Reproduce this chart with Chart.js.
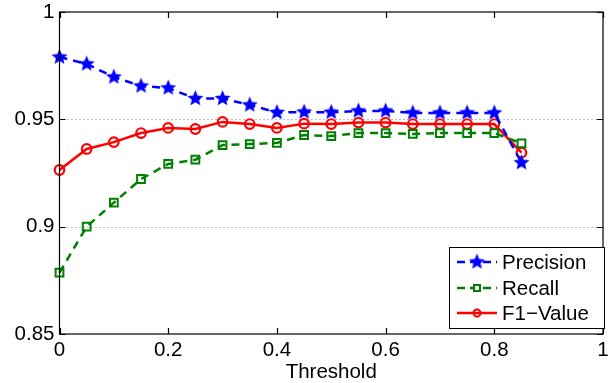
<!DOCTYPE html>
<html>
<head>
<meta charset="utf-8">
<script src="https://cdn.jsdelivr.net/npm/chart.js@4.4.0/dist/chart.umd.min.js"></script>
<style>
  html, body { margin: 0; padding: 0; background: #fff; }
  #wrap { width: 616px; height: 383px; position: relative; }
</style>
</head>
<body>
<div id="wrap"><canvas id="prChart"></canvas></div>
<script>
// data
const thresholds = [0, 0.05, 0.1, 0.15, 0.2, 0.25, 0.3, 0.35, 0.4, 0.45, 0.5, 0.55, 0.6, 0.65, 0.7, 0.75, 0.8, 0.85];
const precision = [0.979, 0.9758, 0.9697, 0.9655, 0.9646, 0.9597, 0.9597, 0.9567, 0.9532, 0.9534, 0.9533, 0.9539, 0.9539, 0.9530, 0.9530, 0.9530, 0.9530, 0.9298];
const recall = [0.8786, 0.9000, 0.9112, 0.9222, 0.9292, 0.9312, 0.9380, 0.9385, 0.9390, 0.9427, 0.9422, 0.9436, 0.9436, 0.9432, 0.9436, 0.9436, 0.9436, 0.9388];
const f1Value = [0.9264, 0.9362, 0.9394, 0.9436, 0.9460, 0.9455, 0.9488, 0.9478, 0.9460, 0.9480, 0.9478, 0.9485, 0.9485, 0.9478, 0.9478, 0.9478, 0.9478, 0.9345];
const xTicks = [0, 0.2, 0.4, 0.6, 0.8, 1];
const yTicks = [0.85, 0.9, 0.95, 1];
const seriesNames = ['Precision', 'Recall', 'F1\u2212Value'];

const FONT = '"Liberation Sans", Arial, Helvetica, sans-serif';
const BLUE = '#0000ff', GREEN = '#008000', RED = '#ff0000';

// filled 5-point star marker
function makeStar(r, color) {
    const c = document.createElement('canvas');
    const s = Math.ceil(r * 2 + 2);
    c.width = s; c.height = s;
    const g = c.getContext('2d');
    g.fillStyle = color;
    g.beginPath();
    for (let i = 0; i < 10; i++) {
        const rad = i % 2 === 0 ? r : r * 0.45;
        const a = -Math.PI / 2 + i * Math.PI / 5;
        const px = s / 2 + rad * Math.cos(a), py = s / 2 + rad * Math.sin(a);
        if (i === 0) g.moveTo(px, py); else g.lineTo(px, py);
    }
    g.closePath();
    g.fill();
    return c;
}
const starImg = makeStar(8.4, BLUE);

// box, inward ticks, dotted grid, legend (MATLAB look)
const matlabAxes = {
    id: 'matlabAxes',
    beforeDatasetsDraw(chart) {
        const { ctx, chartArea: a, scales: { x, y } } = chart;
        ctx.save();
        ctx.strokeStyle = '#808080';
        ctx.lineWidth = 1;
        ctx.setLineDash([1, 3]);
        yTicks.forEach(v => {
            if (v === 0.85 || v === 1) return;
            const py = Math.round(y.getPixelForValue(v)) + 0.5;
            ctx.beginPath(); ctx.moveTo(a.left, py); ctx.lineTo(a.right, py); ctx.stroke();
        });
        ctx.restore();
    },
    afterDraw(chart) {
        const { ctx, chartArea: a, scales: { x, y } } = chart;
        ctx.save();
        ctx.strokeStyle = '#000';
        ctx.lineWidth = 1.2;
        ctx.strokeRect(a.left, a.top, a.right - a.left, a.bottom - a.top);
        const tl = 6;
        ctx.beginPath();
        xTicks.forEach(v => {
            const px = Math.round(x.getPixelForValue(v)) + 0.5;
            ctx.moveTo(px, a.bottom); ctx.lineTo(px, a.bottom - tl);
            ctx.moveTo(px, a.top); ctx.lineTo(px, a.top + tl);
        });
        yTicks.forEach(v => {
            const py = Math.round(y.getPixelForValue(v)) + 0.5;
            ctx.moveTo(a.left, py); ctx.lineTo(a.left + tl, py);
            ctx.moveTo(a.right, py); ctx.lineTo(a.right - tl, py);
        });
        ctx.stroke();

        // legend box
        const lx = 449, ly = 247, lw = 155, lh = 81;
        ctx.fillStyle = '#fff';
        ctx.fillRect(lx, ly, lw, lh);
        ctx.lineWidth = 1;
        ctx.strokeRect(lx + 0.5, ly + 0.5, lw, lh);
        const rows = [262, 288, 313];
        ctx.font = '20.5px ' + FONT;
        ctx.textBaseline = 'middle';
        chart.data.datasets.forEach((ds, i) => {
            const ry = rows[i];
            ctx.strokeStyle = ds.borderColor;
            ctx.lineWidth = 2.4;
            ctx.setLineDash(ds.borderDash ? [8, 5] : []);
            ctx.beginPath(); ctx.moveTo(457, ry); ctx.lineTo(497, ry); ctx.stroke();
            ctx.setLineDash([]);
            const cx = 477;
            if (i === 0) {
                ctx.drawImage(starImg, cx - starImg.width / 2, ry - starImg.height / 2);
            } else if (i === 1) {
                ctx.lineWidth = 2;
                ctx.fillStyle = '#fff';
                ctx.fillRect(cx - 3, ry - 3, 6, 6);
                ctx.strokeRect(cx - 3, ry - 3, 6, 6);
            } else {
                ctx.lineWidth = 2;
                ctx.beginPath(); ctx.arc(cx, ry, 3.5, 0, Math.PI * 2); ctx.stroke();
            }
            ctx.fillStyle = '#000';
            ctx.fillText(ds.label, 502, ry + 1);
        });
        ctx.restore();
    }
};

const toPts = vals => vals.map((v, i) => ({ x: thresholds[i], y: v }));

new Chart(document.getElementById('prChart'), {
    type: 'line',
    data: {
        datasets: [
            {
                label: seriesNames[0],
                data: toPts(precision),
                borderColor: BLUE,
                borderWidth: 2.5,
                borderDash: [8, 6],
                pointStyle: starImg,
                clip: false
            },
            {
                label: seriesNames[1],
                data: toPts(recall),
                borderColor: GREEN,
                borderWidth: 2.5,
                borderDash: [8, 6],
                pointStyle: 'rect',
                pointRadius: 5.5,
                pointBorderWidth: 2,
                pointBackgroundColor: 'rgba(0,0,0,0)',
                clip: false
            },
            {
                label: seriesNames[2],
                data: toPts(f1Value),
                borderColor: RED,
                borderWidth: 2.5,
                pointStyle: 'circle',
                pointRadius: 4.8,
                pointBorderWidth: 2.2,
                pointBackgroundColor: 'rgba(0,0,0,0)',
                clip: false
            }
        ]
    },
    options: {
        responsive: true,
        maintainAspectRatio: false,
        animation: false,
        layout: { padding: { top: 12, right: 13, left: 0, bottom: 0 } },
        plugins: { legend: { display: false }, tooltip: { enabled: false } },
        elements: { line: { tension: 0, fill: false } },
        scales: {
            x: {
                type: 'linear',
                min: 0, max: 1,
                afterBuildTicks: s => { s.ticks = xTicks.map(v => ({ value: v })); },
                afterFit: s => { s.height = 49; s.paddingLeft = 0; s.paddingRight = 0; },
                grid: { display: false, drawTicks: false },
                border: { display: false },
                ticks: {
                    color: '#000', font: { family: FONT, size: 20.5 }, padding: 4,
                    callback: v => String(v)
                },
                title: {
                    display: true, text: 'Threshold', color: '#000',
                    font: { family: FONT, size: 20.5 }, padding: { top: 0, bottom: -2 }
                }
            },
            y: {
                min: 0.85, max: 1,
                afterBuildTicks: s => { s.ticks = yTicks.map(v => ({ value: v })); },
                afterFit: s => { s.width = 59.5; s.paddingTop = 0; s.paddingBottom = 0; },
                grid: { display: false, drawTicks: false },
                border: { display: false },
                ticks: {
                    color: '#000', font: { family: FONT, size: 20.5 }, padding: 5,
                    callback: v => String(v)
                }
            }
        }
    },
    plugins: [matlabAxes]
});
</script>
</body>
</html>
